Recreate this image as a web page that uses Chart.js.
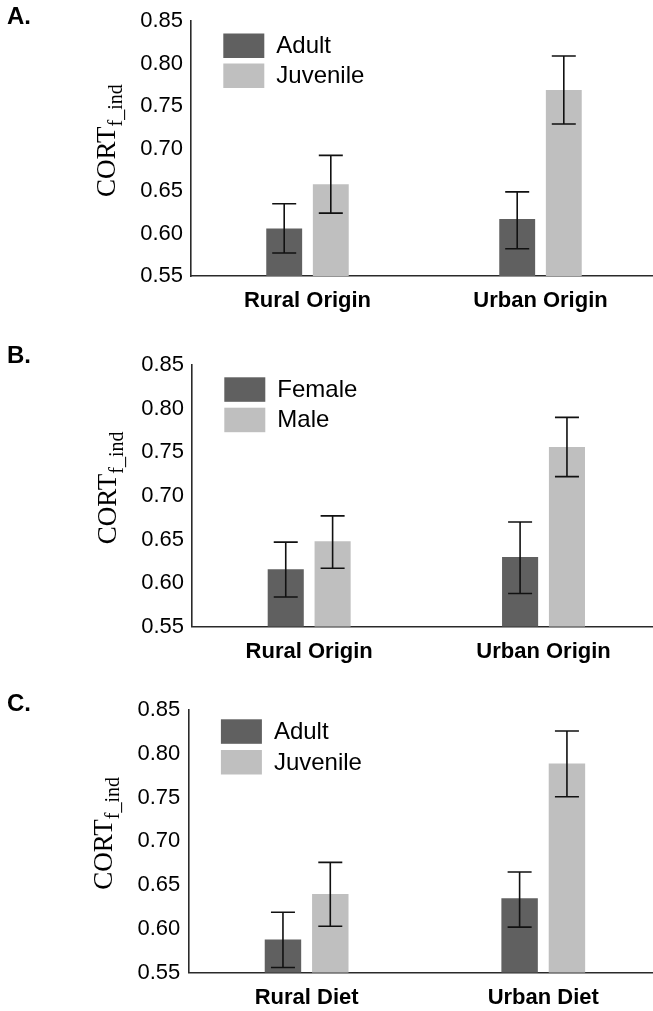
<!DOCTYPE html>
<html>
<head>
<meta charset="utf-8">
<title>CORT f_ind by origin, sex and diet</title>
<script src="https://cdn.jsdelivr.net/npm/chart.js@4.4.1/dist/chart.umd.min.js"></script>
<style>
  html, body { margin: 0; padding: 0; background: #ffffff; overflow: hidden; width: 653px; height: 1011px; }
  .panel { position: absolute; left: 0; }
  canvas { display: block; }
</style>
</head>
<body>
<div class="panel" style="top:0px"><canvas id="chartA" width="664" height="335"></canvas></div>
<div class="panel" style="top:335px"><canvas id="chartB" width="664" height="345"></canvas></div>
<div class="panel" style="top:680px"><canvas id="chartC" width="664" height="331"></canvas></div>
<script>
// ---- shared axis ----
const yMin = 0.55;
const yMax = 0.85;
const yTickValues = [0.55, 0.60, 0.65, 0.70, 0.75, 0.80, 0.85];
const yTickLabels = ['0.55', '0.60', '0.65', '0.70', '0.75', '0.80', '0.85'];

// ---- categories and series names ----
const originCategories = ['Rural Origin', 'Urban Origin'];
const dietCategories = ['Rural Diet', 'Urban Diet'];
const ageGroups = ['Adult', 'Juvenile'];
const sexGroups = ['Female', 'Male'];

// ---- A: origin x age ----
const originAdultMean = [0.606, 0.617];
const originAdultUpper = [0.635, 0.649];
const originAdultLower = [0.577, 0.582];
const originJuvenileMean = [0.658, 0.769];
const originJuvenileUpper = [0.692, 0.809];
const originJuvenileLower = [0.624, 0.729];

// ---- B: origin x sex ----
const originFemaleMean = [0.616, 0.630];
const originFemaleUpper = [0.647, 0.670];
const originFemaleLower = [0.584, 0.588];
const originMaleMean = [0.648, 0.756];
const originMaleUpper = [0.677, 0.790];
const originMaleLower = [0.617, 0.722];

// ---- C: diet x age ----
const dietAdultMean = [0.588, 0.635];
const dietAdultUpper = [0.619, 0.665];
const dietAdultLower = [0.556, 0.602];
const dietJuvenileMean = [0.640, 0.789];
const dietJuvenileUpper = [0.676, 0.826];
const dietJuvenileLower = [0.603, 0.751];

const darkGrey = '#606060';
const lightGrey = '#bfbfbf';
const axisColor = '#2a2a2a';

const tickFont = { family: '"Liberation Sans", Arial, sans-serif', size: 22 };
const catFont = { family: '"Liberation Sans", Arial, sans-serif', size: 22, weight: 'bold' };

// error bars: vertical whisker with caps, from each dataset's upper/lower arrays
const errorBarPlugin = {
  id: 'errorBars',
  afterDatasetsDraw(chart) {
    const ctx = chart.ctx;
    const y = chart.scales.y;
    ctx.save();
    ctx.strokeStyle = '#111111';
    ctx.lineWidth = 1.6;
    chart.data.datasets.forEach((ds, i) => {
      const meta = chart.getDatasetMeta(i);
      meta.data.forEach((bar, j) => {
        const hi = y.getPixelForValue(ds.upper[j]);
        const lo = y.getPixelForValue(ds.lower[j]);
        const cap = 12;
        ctx.beginPath();
        ctx.moveTo(bar.x, hi); ctx.lineTo(bar.x, lo);
        ctx.moveTo(bar.x - cap, hi); ctx.lineTo(bar.x + cap, hi);
        ctx.moveTo(bar.x - cap, lo); ctx.lineTo(bar.x + cap, lo);
        ctx.stroke();
      });
    });
    ctx.restore();
  }
};

// legend boxes inside the plot, top-left
const insideLegendPlugin = {
  id: 'insideLegend',
  afterDraw(chart, args, opts) {
    const ctx = chart.ctx;
    const a = chart.chartArea;
    ctx.save();
    ctx.font = '24px "Liberation Sans", Arial, sans-serif';
    ctx.textBaseline = 'middle';
    chart.data.datasets.forEach((ds, i) => {
      const bx = a.left + opts.dx;
      const by = a.top + opts.dy + i * opts.step;
      ctx.fillStyle = ds.backgroundColor;
      ctx.fillRect(bx, by, 41, 24.5);
      ctx.fillStyle = '#000000';
      ctx.fillText(ds.label, bx + 53, by + 13);
    });
    ctx.restore();
  }
};

// rotated axis title with subscript, plus the panel letter
const titlePlugin = {
  id: 'panelTitles',
  afterDraw(chart, args, opts) {
    const ctx = chart.ctx;
    const a = chart.chartArea;
    ctx.save();
    ctx.fillStyle = '#000000';
    ctx.font = 'bold 24px "Liberation Sans", Arial, sans-serif';
    ctx.textBaseline = 'alphabetic';
    ctx.fillText(opts.letter, 7, opts.letterY);

    const mainFont = '27px "Liberation Serif", "Times New Roman", serif';
    const subFont = '20px "Liberation Serif", "Times New Roman", serif';
    ctx.font = mainFont;
    const w1 = ctx.measureText('CORT').width;
    ctx.font = subFont;
    const w2 = ctx.measureText('f_ind').width;
    const total = w1 + w2;
    const cy = (a.top + a.bottom) / 2 - 8;
    ctx.translate(a.left - 76, cy + total / 2);
    ctx.rotate(-Math.PI / 2);
    ctx.font = mainFont;
    ctx.fillText('CORT', 0, 0);
    ctx.font = subFont;
    ctx.fillText('f_ind', w1, 7);
    ctx.restore();
  }
};

function makeSeries(label, color, mean, upper, lower) {
  return {
    label: label,
    data: mean,
    upper: upper,
    lower: lower,
    backgroundColor: color,
    borderWidth: 0,
    base: yMin,
    categoryPercentage: 0.4,
    barPercentage: 0.77
  };
}

function buildPanel(id, cfg) {
  return new Chart(document.getElementById(id), {
    type: 'bar',
    data: {
      labels: cfg.categories,
      datasets: cfg.series
    },
    options: {
      responsive: false,
      animation: false,
      devicePixelRatio: 1,
      layout: { padding: { top: cfg.top, right: cfg.right, left: 0, bottom: 0 } },
      plugins: {
        legend: { display: false },
        tooltip: { enabled: false },
        insideLegend: cfg.legend,
        panelTitles: { letter: cfg.letter, letterY: cfg.letterY }
      },
      scales: {
        x: {
          type: 'category',
          grid: { display: false, drawTicks: false },
          border: { display: true, color: axisColor, width: 1.6 },
          ticks: { color: '#000000', font: catFont, padding: 12, maxRotation: 0 },
          afterFit(scale) { scale.height = cfg.xHeight; }
        },
        y: {
          min: yMin,
          max: yMax,
          grid: { display: false, drawTicks: false },
          border: { display: true, color: axisColor, width: 1.6 },
          afterBuildTicks(scale) { scale.ticks = yTickValues.map(v => ({ value: v })); },
          ticks: {
            color: '#000000',
            font: tickFont,
            padding: 8,
            callback: (value, index) => yTickLabels[index]
          },
          afterFit(scale) { scale.width = cfg.yWidth; }
        }
      }
    },
    plugins: [errorBarPlugin, insideLegendPlugin, titlePlugin]
  });
}

buildPanel('chartA', {
  categories: originCategories,
  series: [
    makeSeries(ageGroups[0], darkGrey, originAdultMean, originAdultUpper, originAdultLower),
    makeSeries(ageGroups[1], lightGrey, originJuvenileMean, originJuvenileUpper, originJuvenileLower)
  ],
  top: 16, right: 7, yWidth: 191, xHeight: 59,
  legend: { dx: 32.3, dy: 12.3, step: 30 },
  letter: 'A.', letterY: 24
});

buildPanel('chartB', {
  categories: originCategories,
  series: [
    makeSeries(sexGroups[0], darkGrey, originFemaleMean, originFemaleUpper, originFemaleLower),
    makeSeries(sexGroups[1], lightGrey, originMaleMean, originMaleUpper, originMaleLower)
  ],
  top: 30, right: 3.3, yWidth: 192, xHeight: 53.3,
  legend: { dx: 32.3, dy: 12.3, step: 30.4 },
  letter: 'B.', letterY: 28
});

buildPanel('chartC', {
  categories: dietCategories,
  series: [
    makeSeries(ageGroups[0], darkGrey, dietAdultMean, dietAdultUpper, dietAdultLower),
    makeSeries(ageGroups[1], lightGrey, dietJuvenileMean, dietJuvenileUpper, dietJuvenileLower)
  ],
  top: 30, right: 2.4, yWidth: 188.3, xHeight: 38.3,
  legend: { dx: 32.6, dy: 9.3, step: 30.7 },
  letter: 'C.', letterY: 31
});
</script>
</body>
</html>
